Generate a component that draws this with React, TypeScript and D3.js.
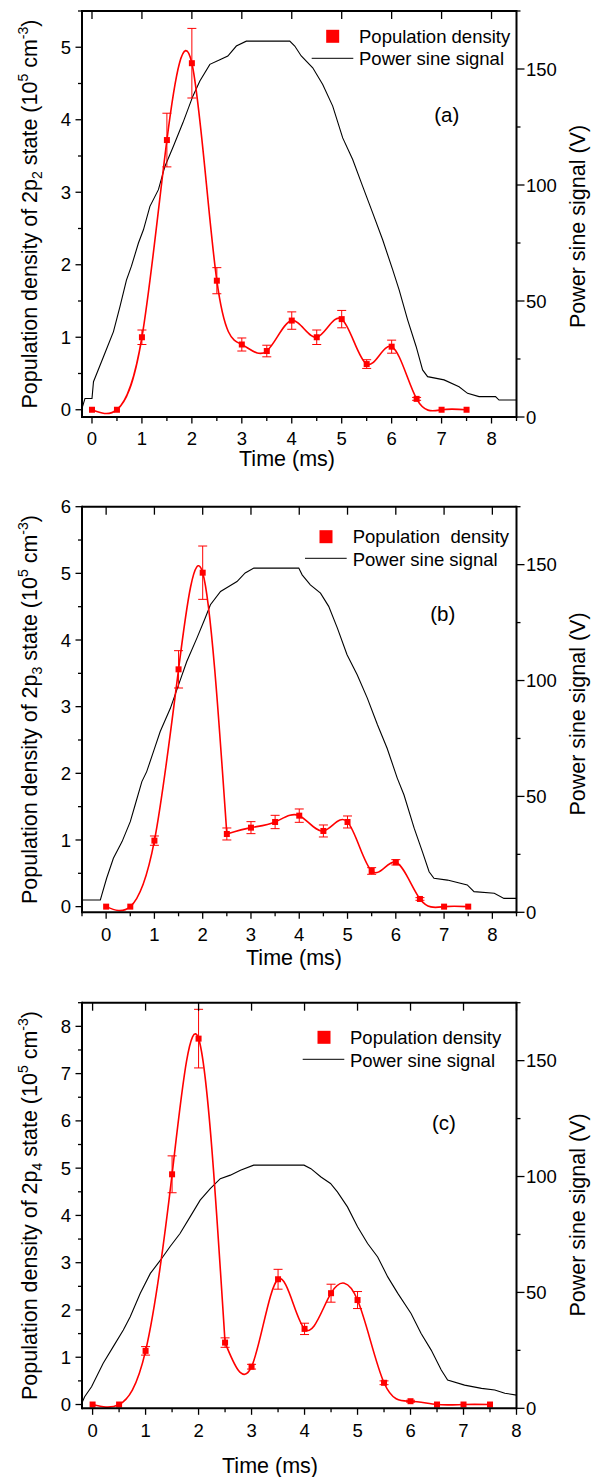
import React from "react";
import * as d3 from "d3";

// ---------- data ----------
const TIME = [0, 0.5, 1, 1.5, 2, 2.5, 3, 3.5, 4, 4.5, 5, 5.5, 6, 6.5, 7, 7.5];

const DENS_A = [0.0, 0.0, 1.0, 3.72, 4.78, 1.78, 0.9, 0.81, 1.23, 1.0, 1.25, 0.63, 0.87, 0.15, 0.0, 0.0];
const ERR_A = [0, 0, 0.1, 0.37, 0.48, 0.18, 0.09, 0.08, 0.12, 0.1, 0.12, 0.06, 0.09, 0.02, 0, 0];

const DENS_B = [0.0, 0.0, 0.99, 3.56, 5.01, 1.09, 1.185, 1.27, 1.365, 1.135, 1.27, 0.535, 0.665, 0.115, 0.0, 0.0];
const ERR_B = [0, 0, 0.07, 0.28, 0.4, 0.09, 0.09, 0.1, 0.1, 0.09, 0.09, 0.05, 0.04, 0.02, 0, 0];

const DENS_C = [0.0, 0.0, 1.135, 4.87, 7.74, 1.31, 0.8, 2.65, 1.6, 2.355, 2.21, 0.46, 0.07, 0.0, 0.0, 0.0];
const ERR_C = [0, 0, 0.09, 0.39, 0.62, 0.1, 0.05, 0.21, 0.12, 0.19, 0.18, 0.04, 0.02, 0, 0, 0];

const SIG_A_T = [-0.2, -0.14, 0, 0.03, 0.23, 0.43, 0.56, 0.69, 0.79, 0.93, 1.03, 1.16, 1.33, 1.46, 1.63, 1.82, 2.02, 2.16, 2.36, 2.56, 2.72, 2.89, 3.09, 3.96, 4.06, 4.19, 4.42, 4.62, 4.82, 5.02, 5.22, 5.42, 5.62, 5.82, 6.02, 6.15, 6.32, 6.49, 6.62, 6.72, 7.05, 7.35, 7.52, 7.75, 8.08, 8.15, 8.5];
const SIG_A_V = [3.7, 8, 8, 15.2, 26, 36.8, 47.6, 59, 65, 75, 80.7, 90.8, 98, 108, 116.7, 126.8, 138.3, 144.8, 152, 154, 155.6, 159.9, 162, 162, 159.9, 155.6, 150.5, 143.3, 134, 120.3, 111, 99.4, 88, 76.4, 63.5, 54.8, 41.9, 30.4, 20.3, 17.4, 16, 13, 10.2, 8.8, 8.8, 7.3, 7.3];

const SIG_B_T = [-0.5, -0.12, -0.09, 0.01, 0.15, 0.33, 0.5, 0.6, 0.74, 0.84, 0.98, 1.12, 1.33, 1.5, 1.67, 1.88, 2.05, 2.16, 2.37, 2.54, 2.71, 2.88, 3.06, 3.99, 4.06, 4.23, 4.44, 4.61, 4.79, 4.99, 5.2, 5.41, 5.62, 5.82, 6.03, 6.17, 6.38, 6.55, 6.69, 6.79, 7.07, 7.48, 7.62, 8.04, 8.24, 8.5];
const SIG_B_V = [5.3, 5.3, 7.5, 14.7, 23.3, 30.5, 39.1, 46.3, 56.4, 60.7, 69.3, 78, 88, 98.1, 108.2, 118.3, 126.9, 132.7, 138.4, 140.6, 142.7, 146.4, 148.5, 148.5, 145.6, 141.3, 137.7, 132, 122.6, 111.1, 102.5, 92.4, 80.9, 70.8, 57.9, 50.6, 36.3, 26.2, 17.5, 14.7, 13.9, 11.8, 8.9, 8.2, 6, 6];

const SIG_C_T = [-0.2, -0.15, -0.02, 0.2, 0.39, 0.58, 0.71, 0.9, 1.09, 1.28, 1.46, 1.65, 1.84, 2.03, 2.22, 2.41, 2.6, 2.79, 3.04, 3.99, 4.12, 4.31, 4.49, 4.62, 4.81, 5.0, 5.19, 5.38, 5.57, 5.76, 6.01, 6.2, 6.39, 6.58, 6.7, 7.02, 7.34, 7.59, 7.78, 8.0];
const SIG_C_V = [2.4, 5, 9.3, 19.4, 26.6, 33.8, 39.5, 49.6, 58.2, 63.9, 69.7, 75.4, 82.6, 89.8, 94.8, 99.1, 100.6, 102.7, 104.9, 104.9, 103.4, 99.8, 97, 93.4, 86.9, 78.3, 71.1, 65.3, 56.7, 49.6, 40.9, 32.3, 25.1, 16.5, 12.2, 10, 8.6, 7.9, 6.5, 5.7];

const RIGHT_MAJORS = [0, 50, 100, 150];
const RIGHT_MINORS = [25, 75, 125, 175];
const LEGEND_1 = ["Population density", "Population  density", "Population density"];
const LEGEND_2 = "Power sine signal";
const SUBS = ["2", "3", "4"];
const PANEL_LABELS = ["(a)", "(b)", "(c)"];

// ---------- layout ----------
const FONT = "'Liberation Sans', Arial, Helvetica, sans-serif";
const RED = "#ff0000";

const PANELS = [
  {
    id: "a", xDomain: [-0.2, 8.5], yDomain: [-0.1, 5.5], yMax: 5, split: -1,
    left: 82, right: 516.5, top: 11, bottom: 417,
    tickBase: 445, xTitle: [287, 466], rightTitleY: 226.5,
    lab: [446.7, 121.7],
    leg: { sq: [332.7, 36.3], tx: 359, b1: 42.7, b2: 65, line: [311.7, 353.3, 58.3] },
    dens: DENS_A, err: ERR_A, sigT: SIG_A_T, sigV: SIG_A_V,
  },
  {
    id: "b", xDomain: [-0.5, 8.5], yDomain: [-0.085, 6], yMax: 6, split: 5,
    left: 82, right: 516.5, top: 506.7, bottom: 912.3,
    tickBase: 940.7, xTitle: [294, 965], rightTitleY: 714,
    lab: [442.7, 621.4],
    leg: { sq: [326, 536.7], tx: 352.7, b1: 543.3, b2: 565.7, line: [305, 346.7, 558.3] },
    dens: DENS_B, err: ERR_B, sigT: SIG_B_T, sigV: SIG_B_V,
  },
  {
    id: "c", xDomain: [-0.2, 8], yDomain: [-0.08, 8.5], yMax: 8, split: 5,
    left: 82, right: 516.5, top: 1002.7, bottom: 1408.3,
    tickBase: 1436.7, xTitle: [270, 1473], rightTitleY: 1215,
    lab: [444, 1129.7],
    leg: { sq: [324, 1037.3], tx: 350, b1: 1044, b2: 1066.7, line: [302.7, 344.3, 1059.3] },
    dens: DENS_C, err: ERR_C, sigT: SIG_C_T, sigV: SIG_C_V,
  },
];

function Panel({ cfg, idx }: any) {
  const x = d3.scaleLinear().domain(cfg.xDomain).range([cfg.left, cfg.right]);
  const y = d3.scaleLinear().domain(cfg.yDomain).range([cfg.bottom, cfg.top]);
  const yr = d3.scaleLinear().domain([0, 175]).range([cfg.bottom, cfg.top]);

  const pts = TIME.map((t, i) => [t, cfg.dens[i]] as [number, number]);
  const spline = d3
    .line<[number, number]>()
    .x((d) => x(d[0]))
    .y((d) => y(d[1]))
    .curve(d3.curveNatural);
  const pieces = cfg.split > 0 ? [pts.slice(0, cfg.split + 1), pts.slice(cfg.split)] : [pts];
  const sigPts = cfg.sigT.map((t: number, i: number) => [t, cfg.sigV[i]] as [number, number]);
  const sigLine = d3.line<[number, number]>().x((d) => x(d[0])).y((d) => yr(d[1]));

  const [x0, x1] = cfg.xDomain;
  const xMajors = d3.range(Math.ceil(x0), x1 + 0.001, 1);
  const xMinors = d3.range(Math.ceil(x0 * 2) / 2, x1 + 0.001, 0.5).filter((v) => Math.abs(v - Math.round(v)) > 0.01);
  const yMajors = d3.range(0, cfg.yMax + 0.001, 1);
  const yMinors = d3.range(0.5, cfg.yDomain[1] + 0.001, 1);

  const clipId = `clip-${cfg.id}`;
  const L = cfg.left, R = cfg.right, T = cfg.top, B = cfg.bottom;
  const cy = (T + B) / 2;

  return (
    <g>
      <defs>
        <clipPath id={clipId}>
          <rect x={L} y={T} width={R - L} height={B - T} />
        </clipPath>
      </defs>

      {/* power signal */}
      <path d={sigLine(sigPts) || ""} fill="none" stroke="#000" strokeWidth={1.1} clipPath={`url(#${clipId})`} />

      {/* density spline */}
      {pieces.map((pc, k) => (
        <path key={"s" + k} d={spline(pc) || ""} fill="none" stroke={RED} strokeWidth={1.6} strokeLinejoin="round" clipPath={`url(#${clipId})`} />
      ))}

      {/* error bars */}
      {pts.map((p, i) =>
        cfg.err[i] > 0 ? (
          <g key={"e" + i} stroke={RED} strokeWidth={1}>
            <line x1={x(p[0])} x2={x(p[0])} y1={y(p[1] + cfg.err[i])} y2={y(p[1] - cfg.err[i])} />
            <line x1={x(p[0]) - 4.5} x2={x(p[0]) + 4.5} y1={y(p[1] + cfg.err[i])} y2={y(p[1] + cfg.err[i])} />
            <line x1={x(p[0]) - 4.5} x2={x(p[0]) + 4.5} y1={y(p[1] - cfg.err[i])} y2={y(p[1] - cfg.err[i])} />
          </g>
        ) : null
      )}
      {pts.map((p, i) => (
        <rect key={"m" + i} x={x(p[0]) - 3} y={y(p[1]) - 3} width={6} height={6} fill={RED} />
      ))}

      {/* frame */}
      <g stroke="#000" strokeWidth={2} fill="none">
        <line x1={L} x2={R} y1={T} y2={T} />
        <line x1={L} x2={R} y1={B} y2={B} />
        <line x1={L} x2={L} y1={T - 1} y2={B + 1} />
        <line x1={R} x2={R} y1={T - 1} y2={B + 1} />
      </g>

      {/* ticks */}
      <g stroke="#000" strokeWidth={1.3}>
        {xMajors.map((v) => (
          <line key={"xb" + v} x1={x(v)} x2={x(v)} y1={B} y2={B + 6.5} />
        ))}
        {xMinors.map((v) => (
          <line key={"xm" + v} x1={x(v)} x2={x(v)} y1={B} y2={B + 4} />
        ))}
        {xMajors.map((v) => (
          <line key={"xt" + v} x1={x(v)} x2={x(v)} y1={T} y2={T + 8} />
        ))}
        {yMajors.map((v) => (
          <line key={"yl" + v} x1={L - 6.5} x2={L} y1={y(v)} y2={y(v)} />
        ))}
        {yMinors.map((v) => (
          <line key={"ylm" + v} x1={L - 4} x2={L} y1={y(v)} y2={y(v)} />
        ))}
        {RIGHT_MAJORS.map((v) => (
          <line key={"yr" + v} x1={R} x2={R + 8} y1={yr(v)} y2={yr(v)} />
        ))}
        {RIGHT_MINORS.map((v) => (
          <line key={"yrm" + v} x1={R} x2={R + 4} y1={yr(v)} y2={yr(v)} />
        ))}
      </g>

      {/* tick labels */}
      <g fontFamily={FONT} fontSize={18.5} fill="#000">
        {xMajors.map((v) => (
          <text key={"xl" + v} x={x(v)} y={cfg.tickBase} textAnchor="middle">{v}</text>
        ))}
        {yMajors.map((v) => (
          <text key={"yll" + v} x={L - 11} y={y(v) + 6.6} textAnchor="end">{v}</text>
        ))}
        {RIGHT_MAJORS.map((v) => (
          <text key={"yrl" + v} x={R + 9.5} y={yr(v) + 6.6} textAnchor="start">{v}</text>
        ))}
      </g>

      {/* axis titles */}
      <g fontFamily={FONT} fontSize={21.5} fill="#000">
        <text x={cfg.xTitle[0]} y={cfg.xTitle[1]} textAnchor="middle">Time (ms)</text>
        <text transform={`translate(37,${cy}) rotate(-90)`} textAnchor="middle">
          Population density of 2p
          <tspan fontSize={14} dy={5}>{SUBS[idx]}</tspan>
          <tspan dy={-5}> state (10</tspan>
          <tspan fontSize={14} dy={-9}>5</tspan>
          <tspan dy={9}> cm</tspan>
          <tspan fontSize={14} dy={-9}>-3</tspan>
          <tspan dy={9}>)</tspan>
        </text>
        <text transform={`translate(584.5,${cfg.rightTitleY}) rotate(-90)`} textAnchor="middle">Power sine signal (V)</text>
      </g>

      {/* legend */}
      <g fontFamily={FONT} fontSize={18.5} fill="#000">
        <rect x={cfg.leg.sq[0] - 6.5} y={cfg.leg.sq[1] - 6.5} width={13} height={13} fill={RED} />
        <text x={cfg.leg.tx} y={cfg.leg.b1} style={{ whiteSpace: "pre" }}>{LEGEND_1[idx]}</text>
        <line x1={cfg.leg.line[0]} x2={cfg.leg.line[1]} y1={cfg.leg.line[2]} y2={cfg.leg.line[2]} stroke="#000" strokeWidth={1} />
        <text x={cfg.leg.tx} y={cfg.leg.b2}>{LEGEND_2}</text>
      </g>

      <text x={cfg.lab[0]} y={cfg.lab[1]} textAnchor="middle" fontFamily={FONT} fontSize={20.5}>{PANEL_LABELS[idx]}</text>
    </g>
  );
}

export default function App() {
  return (
    <svg width={602} height={1477} style={{ position: "absolute", left: 0, top: 0, background: "#fff" }}>
      <rect x={0} y={0} width={602} height={1477} fill="#fff" />
      {PANELS.map((cfg, i) => (
        <Panel key={cfg.id} cfg={cfg} idx={i} />
      ))}
    </svg>
  );
}
